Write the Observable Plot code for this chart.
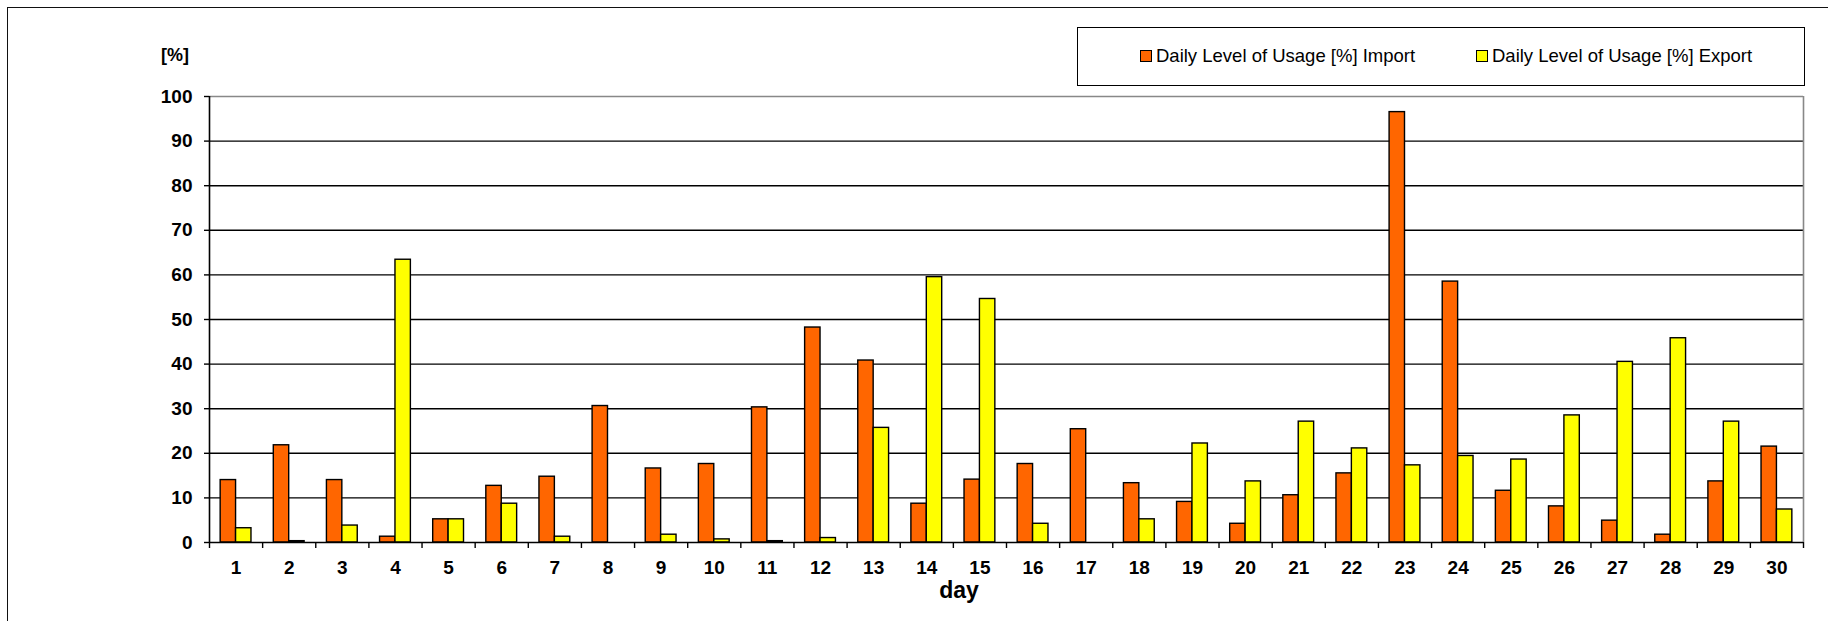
<!DOCTYPE html>
<html>
<head>
<meta charset="utf-8">
<script src="https://cdn.jsdelivr.net/npm/d3@7"></script>
<script src="https://cdn.jsdelivr.net/npm/@observablehq/plot@0.6"></script>
<style>
  html, body { margin: 0; padding: 0; background: #fff; overflow: hidden; }
  body { width: 1828px; height: 621px; position: relative; font-family: "Liberation Sans", Arial, sans-serif; }
  #frame { position: absolute; left: 7px; top: 7px; width: 2000px; height: 1000px; border-left: 1.5px solid #111; border-top: 1.5px solid #111; }
  #chart { position: absolute; left: 0; top: 0; }
  #legend { position: absolute; left: 1077px; top: 27px; width: 728px; height: 59px; border: 1.5px solid #000; box-sizing: border-box; background: #fff; }
  .item { position: absolute; top: 0; height: 56px; display: flex; align-items: center; font-size: 18.5px; color: #000; white-space: nowrap; }
  .sw { width: 10px; height: 10px; border: 1px solid #000; margin-right: 4px; }
  #ylab { position: absolute; left: 161px; top: 44px; height: 22px; line-height: 22px; font-size: 18px; font-weight: bold; }
  #xlab { position: absolute; left: 959px; top: 579px; transform: translateX(-50%); line-height: 23px; font-size: 23px; font-weight: bold; }
</style>
</head>
<body>
<div id="frame"></div>
<div id="chart"></div>
<div id="legend"></div>
<div id="ylab">[%]</div>
<div id="xlab">day</div>
<script>
const days = [1,2,3,4,5,6,7,8,9,10,11,12,13,14,15,16,17,18,19,20,21,22,23,24,25,26,27,28,29,30];
const importVals = [14.0, 21.8, 14.0, 1.3, 5.2, 12.7, 14.75, 30.6, 16.6, 17.6, 30.3, 48.2, 40.8, 8.7, 14.1, 17.6, 25.4, 13.3, 9.1, 4.2, 10.6, 15.5, 96.5, 58.5, 11.6, 8.1, 4.9, 1.75, 13.7, 21.5];
const exportVals = [3.2, 0.3, 3.8, 63.4, 5.2, 8.7, 1.3, 0, 1.75, 0.7, 0.3, 1.0, 25.7, 59.5, 54.6, 4.2, 0, 5.2, 22.2, 13.7, 27.1, 21.1, 17.3, 19.4, 18.6, 28.5, 40.5, 45.8, 27.1, 7.4];
const seriesNames = ["Daily Level of Usage [%] Import", "Daily Level of Usage [%] Export"];
const seriesColors = ["#FF6600", "#FFFF00"];
const yTicks = [0,10,20,30,40,50,60,70,80,90,100];

const importData = days.map((d, i) => ({day: d, value: importVals[i]}));
const exportData = days.map((d, i) => ({day: d, value: exportVals[i]}));
const bounds = [0, ...days].map(d => d + 0.5);
const BW = 0.29; // bar width in category units

const plot = Plot.plot({
  width: 1828,
  height: 621,
  marginLeft: 209,
  marginRight: 25,
  marginTop: 96,
  marginBottom: 79,
  style: {fontFamily: '"Liberation Sans", Arial, sans-serif', fontSize: "19px", fontWeight: "bold", color: "#000", background: "transparent", overflow: "visible"},
  x: {type: "linear", domain: [0.5, 30.5], label: null},
  y: {domain: [0, 100], label: null},
  marks: [
    Plot.ruleY(yTicks.slice(1, -1), {stroke: "#000", strokeWidth: 1.4}),
    Plot.ruleY([100], {stroke: "#888", strokeWidth: 1.6}),
    Plot.ruleX([30.5], {stroke: "#888", strokeWidth: 1.6}),
    Plot.rect(importData, {x1: d => d.day - BW, x2: d => d.day, y1: 0, y2: "value", fill: seriesColors[0], stroke: "#000", strokeWidth: 1.4}),
    Plot.rect(exportData, {x1: d => d.day, x2: d => d.day + BW, y1: 0, y2: "value", fill: seriesColors[1], stroke: "#000", strokeWidth: 1.4}),
    Plot.ruleY([0], {stroke: "#000", strokeWidth: 1.6}),
    Plot.ruleX([0.5], {stroke: "#000", strokeWidth: 1.6}),
    Plot.axisY(yTicks, {tickSize: 5, tickPadding: 12, stroke: "#000", strokeWidth: 1.4, fontSize: 19, fontWeight: "bold", fill: "#000", label: null}),
    Plot.axisX(bounds, {tickSize: 6, tickFormat: () => "", stroke: "#000", strokeWidth: 1.4, label: null}),
    Plot.axisX(days, {tickSize: 0, tickPadding: 18, fontSize: 19, fontWeight: "bold", fill: "#000", label: null})
  ]
});
document.getElementById("chart").appendChild(plot);

// legend
const legend = document.getElementById("legend");
const lefts = [62, 398];
seriesNames.forEach((name, i) => {
  const it = document.createElement("div");
  it.className = "item";
  it.style.left = lefts[i] + "px";
  const sw = document.createElement("span");
  sw.className = "sw";
  sw.style.background = seriesColors[i];
  const tx = document.createElement("span");
  tx.textContent = name;
  it.appendChild(sw);
  it.appendChild(tx);
  legend.appendChild(it);
});
</script>
</body>
</html>
